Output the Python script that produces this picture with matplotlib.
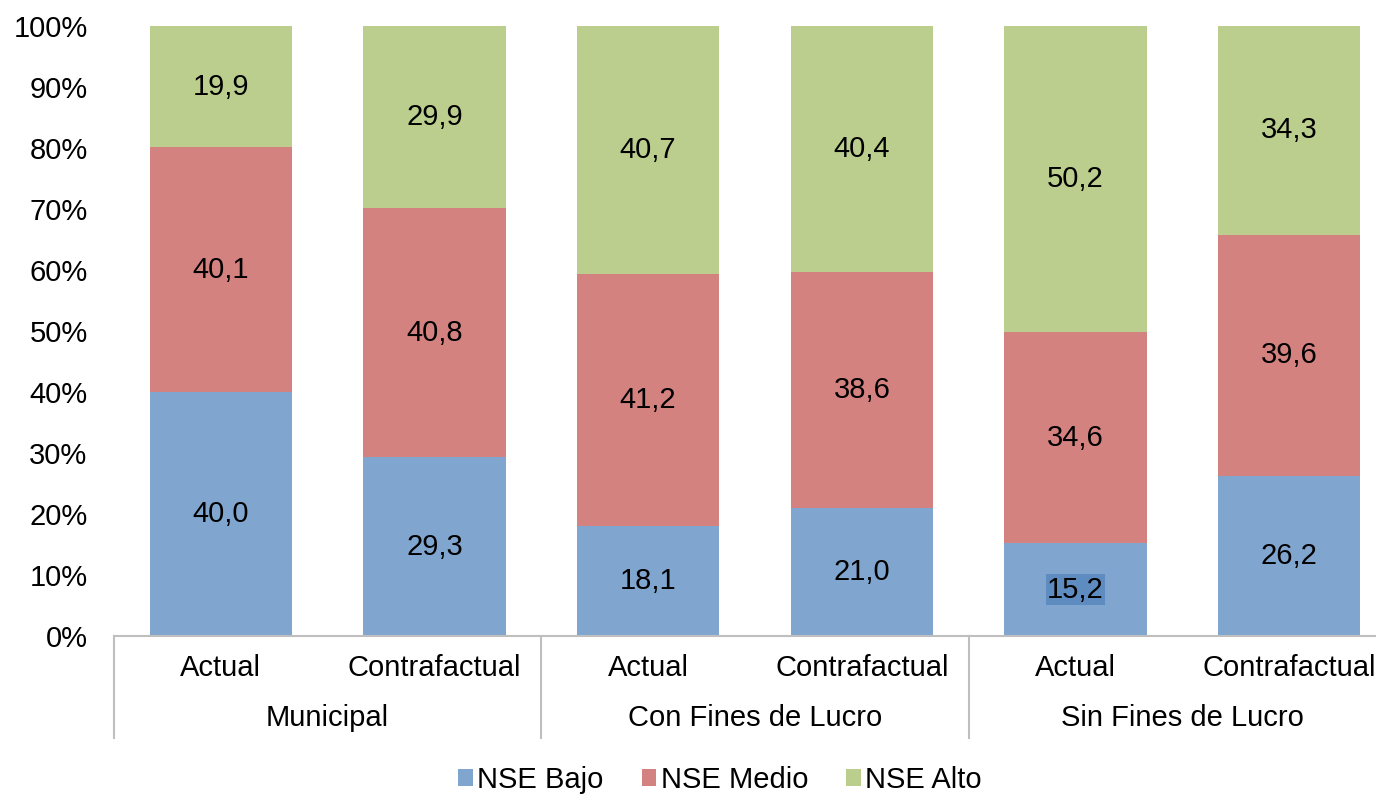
import numpy as np
from matplotlib import pyplot as plt
import matplotlib.transforms as mtransforms

plt.rcParams['font.family'] = ['Liberation Sans', 'DejaVu Sans']

# datos
grupos = ['Municipal', 'Con Fines de Lucro', 'Sin Fines de Lucro']
categorias = ['Actual', 'Contrafactual', 'Actual', 'Contrafactual', 'Actual', 'Contrafactual']
nse_bajo = [40.0, 29.3, 18.1, 21.0, 15.2, 26.2]
nse_medio = [40.1, 40.8, 41.2, 38.6, 34.6, 39.6]
nse_alto = [19.9, 29.9, 40.7, 40.4, 50.2, 34.3]
series = ['NSE Bajo', 'NSE Medio', 'NSE Alto']
colores = ['#80A6CF', '#D48280', '#BBCE8D']

tam = 21
negro = '#000000'

fig = plt.figure(figsize=(13.76, 7.96), dpi=100)
ax = fig.add_axes([114/1376, 1-636/796, 1282/1376, 610/796])

x = np.arange(len(categorias))
ancho = 0.665
base = np.zeros(len(categorias))
for valores, nombre, color in zip([nse_bajo, nse_medio, nse_alto], series, colores):
    valores = np.array(valores)
    ax.bar(x, valores, ancho, bottom=base, color=color, label=nombre, zorder=2)
    for i in range(len(x)):
        texto = ('%.1f' % valores[i]).replace('.', ',')
        caja = None
        if nombre == 'NSE Bajo' and i == 4:
            caja = dict(facecolor='#5E8BC0', edgecolor='none', pad=1.0)
        ax.text(x[i], base[i] + valores[i]/2, texto, ha='center', va='center',
                fontsize=tam, color=negro, bbox=caja, zorder=3)
    base = base + valores

ax.set_xlim(-0.5, len(categorias) - 0.5)
ax.set_ylim(0, 100)
ax.set_yticks(np.arange(0, 101, 10))
ax.set_yticklabels([str(v) + '%' for v in range(0, 101, 10)], fontsize=tam, color=negro)
ax.tick_params(axis='y', length=0, pad=19)
ax.set_xticks([])

for lado in ['top', 'right', 'left']:
    ax.spines[lado].set_visible(False)
ax.spines['bottom'].set_color('#BFBFBF')
ax.spines['bottom'].set_linewidth(1.5)

# etiquetas de categoria y grupo
trans = mtransforms.blended_transform_factory(ax.transData, ax.transAxes)
for i in range(len(categorias)):
    ax.text(x[i], -32/610, categorias[i], transform=trans, ha='center', va='center',
            fontsize=tam, color=negro)
for g in range(len(grupos)):
    ax.text(2*g + 0.5, -82/610, grupos[g], transform=trans, ha='center', va='center',
            fontsize=tam, color=negro)
for s in [-0.5, 1.5, 3.5, 5.5]:
    ax.plot([s, s], [0, -102/610], transform=trans, color='#BFBFBF', lw=1.5, clip_on=False)

fig.legend(loc='center', bbox_to_anchor=(720/1376, 1-780/796), ncol=3, frameon=False,
           fontsize=tam, handlelength=0.5, handleheight=0.5, handletextpad=0.15,
           columnspacing=1.3, labelcolor=negro)

plt.savefig('out.png', dpi=100)
